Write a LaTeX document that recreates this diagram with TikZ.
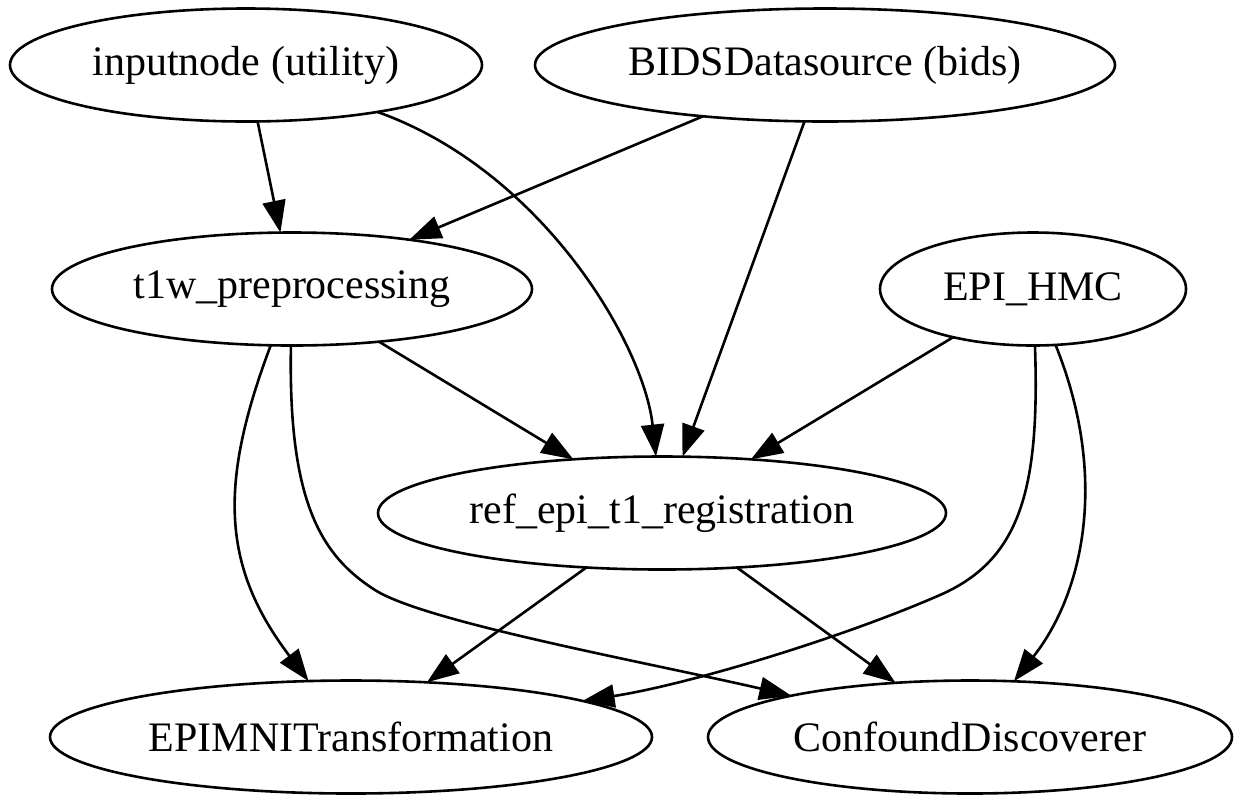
\documentclass[tikz,border=0pt]{standalone}
\usepackage{fontspec}
\setmainfont{Liberation Serif}
\usetikzlibrary{shapes.geometric,arrows.meta}
\begin{document}
\begin{tikzpicture}[x=0.5pt,y=-0.5pt,
  nd/.style={draw, ellipse, line width=1.3pt, inner sep=0pt, outer sep=0pt,
    minimum height=56.5pt, font=\fontsize{21}{25}\selectfont},
  edge/.style={line width=1.3pt, -{Triangle[length=16pt,width=11.5pt]}}]
\useasboundingbox (0,0) rectangle (1236,794);
\node[nd, minimum width=236pt] (inp)  at (246,65)  {inputnode (utility)};
\node[nd, minimum width=290pt] (bids) at (825,65)  {BIDSDatasource (bids)};
\node[nd, minimum width=240pt] (t1w)  at (292,289) {t1w\_preprocessing};
\node[nd, minimum width=153pt] (epi)  at (1033,289) {EPI\_HMC};
\node[nd, minimum width=284pt] (ref)  at (662,513) {ref\_epi\_t1\_registration};
\node[nd, minimum width=301pt] (mni)  at (351,737) {EPIMNITransformation};
\node[nd, minimum width=262pt] (conf) at (970,737) {ConfoundDiscoverer};
% straight edges
\draw[edge] (inp) -- (t1w);
\draw[edge] (bids) -- (t1w);
\draw[edge] (bids) -- (ref);
\draw[edge] (t1w) -- (ref);
\draw[edge] (epi) -- (ref);
\draw[edge] (ref) -- (mni);
\draw[edge] (ref) -- (conf);
% curved edges
\draw[edge] (inp) .. controls (543,171) and (644,345) .. (ref);
\draw[edge] (t1w) .. controls (218,485) and (222,567) .. (mni);
\draw[edge] (t1w) .. controls (288,500) and (320,555) .. (375,590)
  .. controls (425,622) and (650,663) .. (conf);
\draw[edge] (epi) .. controls (1040,490) and (1020,560) .. (940,595)
  .. controls (844,637) and (691,684) .. (mni);
\draw[edge] (epi) .. controls (1110,480) and (1082,595) .. (conf);
\end{tikzpicture}
\end{document}
